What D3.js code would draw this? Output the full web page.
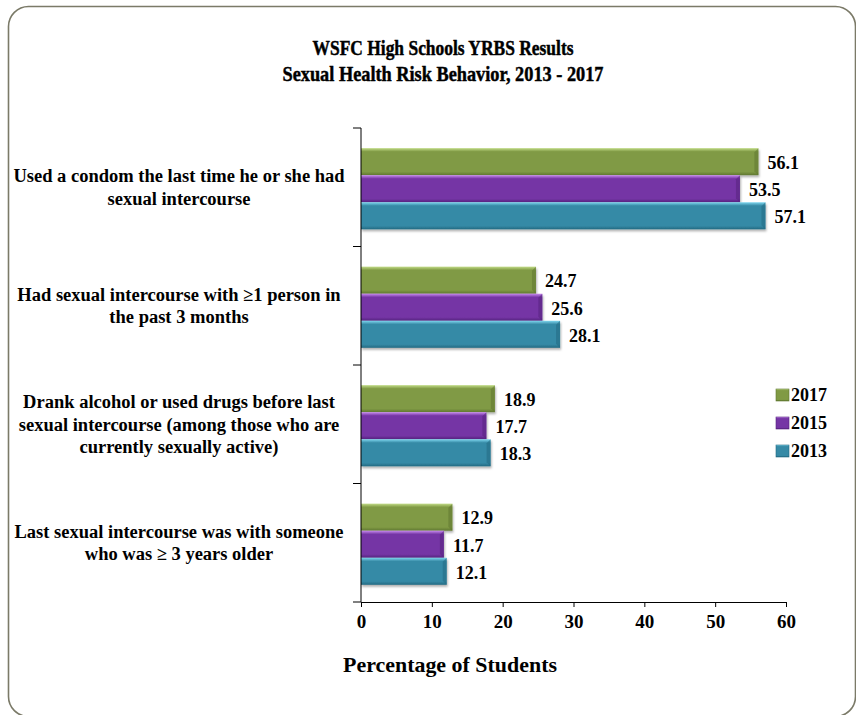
<!DOCTYPE html>
<html>
<head>
<meta charset="utf-8">
<script src="https://cdn.jsdelivr.net/npm/d3@7"></script>
<style>
  html, body { margin: 0; padding: 0; background: #fff; }
  svg { display: block; }
</style>
</head>
<body>
<svg id="chart" width="856" height="715"></svg>
<script>
// Survey items (each row holds the wrapped label lines)
const categories = [
  ["Used a condom the last time he or she had", "sexual intercourse"],
  ["Had sexual intercourse with \u22651 person in", "the past 3 months"],
  ["Drank alcohol or used drugs before last", "sexual intercourse (among those who are", "currently sexually active)"],
  ["Last sexual intercourse was with someone", "who was \u2265 3 years older"]
];
const years = ["2017", "2015", "2013"];
const values2017 = [56.1, 24.7, 18.9, 12.9];
const values2015 = [53.5, 25.6, 17.7, 11.7];
const values2013 = [57.1, 28.1, 18.3, 12.1];
const xTicks = [0, 10, 20, 30, 40, 50, 60];

const seriesValues = { "2017": values2017, "2015": values2015, "2013": values2013 };
const palette = {
  "2017": { base: "#809a44", light: "#c2dc88", dark: "#5f7730" },
  "2015": { base: "#7535a5", light: "#c98cef", dark: "#55227e" },
  "2013": { base: "#368aa6", light: "#7fd8f0", dark: "#236a82" }
};

const FONT = "'Liberation Serif', 'Times New Roman', serif";
const styleText = (sel, size) => sel
  .style("font-family", FONT).style("font-weight", "bold")
  .style("font-size", size + "px").style("fill", "#000");

const svg = d3.select("#chart");
const defs = svg.append("defs");

// Bevelled bar fills
years.forEach(y => {
  const c = palette[y];
  const g = defs.append("linearGradient").attr("id", "grad" + y)
    .attr("x1", 0).attr("y1", 0).attr("x2", 0).attr("y2", 1);
  g.append("stop").attr("offset", "0%").attr("stop-color", c.light);
  g.append("stop").attr("offset", "13%").attr("stop-color", c.base);
  g.append("stop").attr("offset", "87%").attr("stop-color", c.base);
  g.append("stop").attr("offset", "100%").attr("stop-color", c.dark);
});
const shadow = defs.append("filter").attr("id", "shadow")
  .attr("x", "-5%").attr("y", "-20%").attr("width", "110%").attr("height", "160%");
shadow.append("feDropShadow").attr("dx", 1).attr("dy", 2).attr("stdDeviation", 1.2)
  .attr("flood-color", "#000").attr("flood-opacity", 0.3);

// Outer rounded frame
svg.append("rect")
  .attr("x", 8.5).attr("y", 6.5).attr("width", 847).attr("height", 710)
  .attr("rx", 20).attr("ry", 20)
  .attr("fill", "none").attr("stroke", "#7b7a68").attr("stroke-width", 1.6);

// Title (two condensed lines, slightly heavier stroke)
const titleLines = [
  { text: "WSFC High Schools YRBS Results", y: 54.5, len: 261 },
  { text: "Sexual Health Risk Behavior, 2013 - 2017", y: 81, len: 321 }
];
svg.append("g").selectAll("text").data(titleLines).join("text")
  .attr("x", 443).attr("y", d => d.y).attr("text-anchor", "middle")
  .attr("textLength", d => d.len).attr("lengthAdjust", "spacingAndGlyphs")
  .call(styleText, 21)
  .style("stroke", "#000").style("stroke-width", 0.45)
  .text(d => d.text);

const margin = { left: 361, top: 128, right: 786, bottom: 602 };

const x = d3.scaleLinear().domain([0, 60]).range([margin.left, margin.right]);
const y = d3.scaleBand().domain(d3.range(categories.length)).range([margin.top, margin.bottom]);
const yInner = d3.scaleBand().domain(years).range([y.bandwidth() * 0.17, y.bandwidth() * 0.855]);

// Bars
const groups = svg.append("g").selectAll("g")
  .data(categories.map((c, i) => i))
  .join("g")
  .attr("transform", i => `translate(0,${y(i)})`);

groups.each(function(i) {
  const g = d3.select(this);
  years.forEach(yr => {
    const v = seriesValues[yr][i];
    const y0 = yInner(yr), h = yInner.bandwidth();
    const x0 = x(0), x1 = x(v);
    g.append("rect")
      .attr("x", x0).attr("y", y0).attr("width", x1 - x0).attr("height", h)
      .attr("fill", `url(#grad${yr})`).attr("filter", "url(#shadow)");
    // right bevel edge
    const b = 4;
    g.append("path")
      .attr("d", `M${x1 - b},${y0 + b}L${x1},${y0}L${x1},${y0 + h}L${x1 - b},${y0 + h - b}Z`)
      .attr("fill", palette[yr].dark).attr("opacity", 0.55);
    g.append("text")
      .attr("x", x1 + 9).attr("y", y0 + h / 2 + 1)
      .attr("dy", "0.35em")
      .call(styleText, 18)
      .text(v.toFixed(1));
  });
});

// Y axis line with category separators
svg.append("line")
  .attr("x1", margin.left).attr("x2", margin.left)
  .attr("y1", margin.top).attr("y2", margin.bottom)
  .attr("stroke", "#000").attr("stroke-width", 1);
const sepY = d3.range(categories.length + 1).map(i => i < categories.length ? y(i) : margin.bottom);
svg.append("g").selectAll("line").data(sepY).join("line")
  .attr("x1", margin.left - 8).attr("x2", margin.left)
  .attr("y1", d => d).attr("y2", d => d)
  .attr("stroke", "#000").attr("stroke-width", 1);

// Category labels
svg.append("g").selectAll("text").data(categories).join("text")
  .attr("text-anchor", "middle")
  .call(styleText, 18.5)
  .each(function(lines, i) {
    const cy = y(i) + y.bandwidth() / 2;
    const lh = 22.5;
    const start = cy - (lines.length - 1) * lh / 2;
    d3.select(this).selectAll("tspan").data(lines).join("tspan")
      .attr("x", 179).attr("y", (d, k) => start + k * lh).attr("dy", "0.35em")
      .text(d => d);
  });

// X axis
const xAxis = svg.append("g")
  .attr("transform", `translate(0,${margin.bottom})`)
  .call(d3.axisBottom(x).tickValues(xTicks).tickSize(5).tickSizeOuter(0).tickPadding(8));
xAxis.select(".domain").attr("stroke", "#000");
xAxis.selectAll("text").call(styleText, 19);

// X axis title
svg.append("text")
  .attr("x", 450).attr("y", 672).attr("text-anchor", "middle")
  .attr("textLength", 214).attr("lengthAdjust", "spacingAndGlyphs")
  .call(styleText, 21)
  .text("Percentage of Students");

// Legend
const legend = svg.append("g").selectAll("g").data(years).join("g")
  .attr("transform", (d, i) => `translate(776,${395 + i * 28})`);
legend.append("rect")
  .attr("x", 0).attr("y", -6).attr("width", 13).attr("height", 12)
  .attr("fill", d => `url(#grad${d})`)
  .attr("stroke", d => palette[d].dark).attr("stroke-width", 0.6);
legend.append("text")
  .attr("x", 15).attr("y", 0).attr("dy", "0.35em")
  .call(styleText, 18)
  .text(d => d);
</script>
</body>
</html>
